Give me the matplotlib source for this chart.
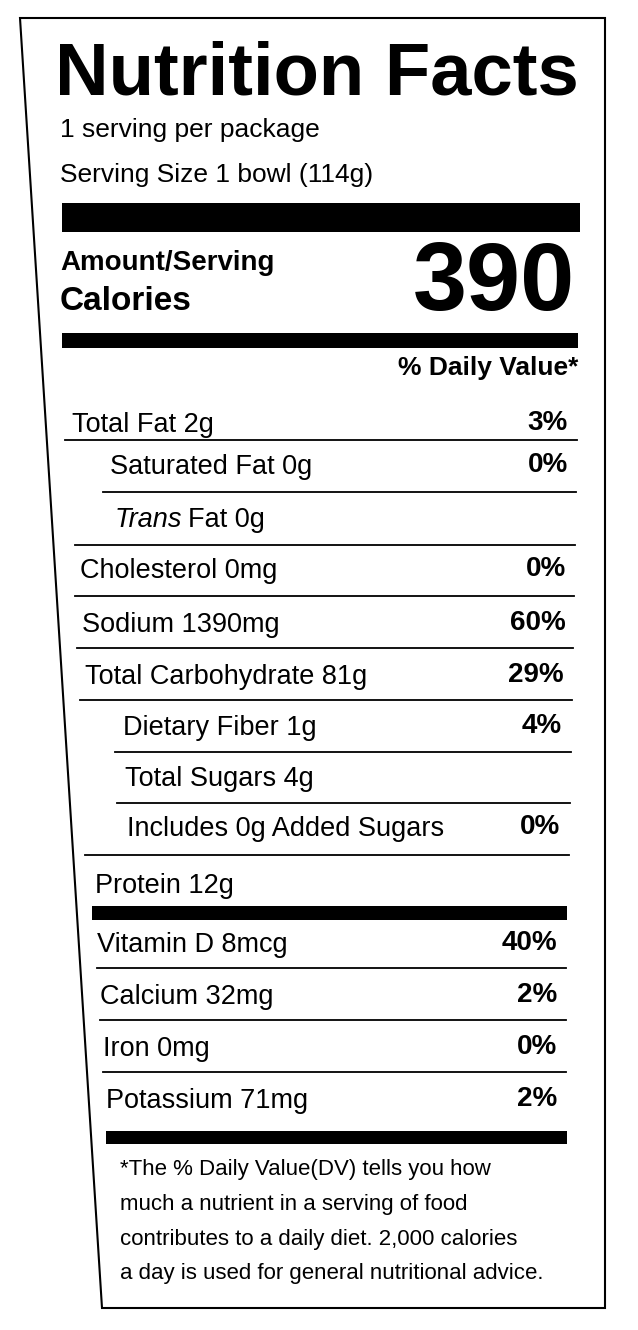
import matplotlib.pyplot as plt
from matplotlib.patches import Polygon

# label data
nutrients = ["Total Fat 2g", "Saturated Fat 0g", "Trans Fat 0g", "Cholesterol 0mg",
             "Sodium 1390mg", "Total Carbohydrate 81g", "Dietary Fiber 1g",
             "Total Sugars 4g", "Includes 0g Added Sugars", "Protein 12g"]
nutrient_dv = ["3%", "0%", "", "0%", "60%", "29%", "4%", "", "0%", ""]
vitamins = ["Vitamin D 8mcg", "Calcium 32mg", "Iron 0mg", "Potassium 71mg"]
vitamin_dv = ["40%", "2%", "0%", "2%"]
calories = "390"
footnote = ["*The % Daily Value(DV) tells you how",
            "much a nutrient in a serving of food",
            "contributes to a daily diet. 2,000 calories",
            "a day is used for general nutritional advice."]

# layout (pixels)
W, H = 638, 1330
nutrient_y = [425, 467, 520, 571, 625, 677, 728, 779, 829, 886]
nutrient_x = [72, 110, 115, 80, 82, 85, 123, 125, 127, 95]
nutrient_r = [568, 568, 568, 566, 566, 564, 562, 560, 560, 560]
vitamin_y = [945, 997, 1049, 1101]
vitamin_x = [97, 100, 103, 106]
sep_y = [440, 492, 545, 596, 648, 700, 752, 803, 855]
sep_x = [65, 103, 75, 75, 77, 80, 115, 117, 85]
vsep_y = [968, 1020, 1072]

fig = plt.figure(figsize=(W / 100, H / 100), dpi=100)
ax = fig.add_axes([0, 0, 1, 1])
ax.set_xlim(0, W)
ax.set_ylim(H, 0)
ax.axis("off")

ax.add_patch(Polygon([(20, 18), (605, 18), (605, 1308), (102, 1308)],
                     closed=True, fill=False, lw=1.5, ec="black"))

fam = "Liberation Sans"


def fit(x0, x1, y, s, size, **kw):
    t = ax.text(x0, y, s, fontsize=size, va="center", ha="left", family=fam, **kw)
    fig.canvas.draw()
    w = t.get_window_extent().width
    t.set_fontsize(size * (x1 - x0) / w)
    return t


fit(55, 578, 75, "Nutrition Facts", 48, fontweight="bold")
ax.text(60, 130, "1 serving per package", fontsize=19, va="center", family=fam)
ax.text(60, 175, "Serving Size 1 bowl (114g)", fontsize=19, va="center", family=fam)
ax.fill_between([62, 580], 203, 232, color="black", lw=0)
ax.text(60, 263, "Amount/Serving", fontsize=20, fontweight="bold", va="center", family=fam)
ax.text(60, 302, "Calories", fontsize=24, fontweight="bold", va="center", family=fam)
fit(413, 575, 285, calories, 60, fontweight="bold")
ax.fill_between([62, 578], 333, 348, color="black", lw=0)
ax.text(578, 368, "% Daily Value*", fontsize=19, fontweight="bold", va="center",
        ha="right", family=fam)

for lab, dv, x, y, r in zip(nutrients, nutrient_dv, nutrient_x, nutrient_y, nutrient_r):
    if lab.startswith("Trans"):
        t = ax.text(x, y, "Trans", fontsize=19.5, style="italic", va="center", family=fam)
        fig.canvas.draw()
        tw = t.get_window_extent().width
        ax.text(x + tw + 6, y, "Fat 0g", fontsize=19.5, va="center", family=fam)
    else:
        ax.text(x, y, lab, fontsize=19.5, va="center", family=fam)
    if dv:
        ax.text(r, y - 2, dv, fontsize=20, fontweight="bold", va="center",
                ha="right", family=fam)

for y, x in zip(sep_y, sep_x):
    ax.plot([x, 577 - (y - 440) * 0.02], [y, y], color="black", lw=1.3)

ax.fill_between([92, 567], 906, 920, color="black", lw=0)

for lab, dv, x, y in zip(vitamins, vitamin_dv, vitamin_x, vitamin_y):
    ax.text(x, y, lab, fontsize=19.5, va="center", family=fam)
    ax.text(557, y - 2, dv, fontsize=20, fontweight="bold", va="center",
            ha="right", family=fam)

for y, x in zip(vsep_y, [97, 100, 103]):
    ax.plot([x, 566], [y, y], color="black", lw=1.3)

ax.fill_between([106, 567], 1131, 1144, color="black", lw=0)

for i, line in enumerate(footnote):
    ax.text(120, 1170 + i * 34.5, line, fontsize=16, va="center", family=fam)

fig.savefig("out.png", dpi=100)
